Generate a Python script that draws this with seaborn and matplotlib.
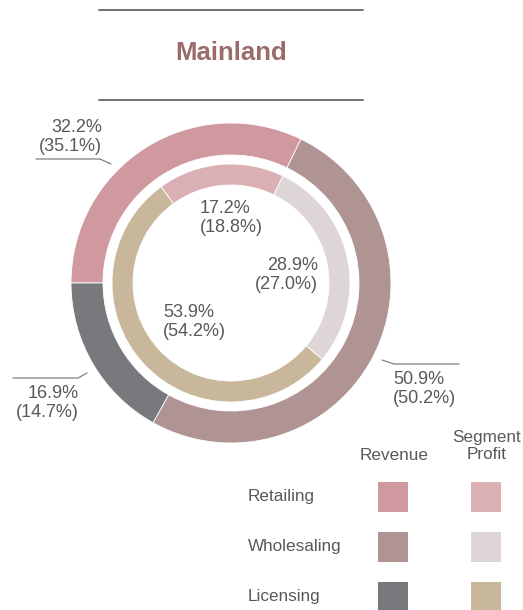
import pandas as pd
import seaborn as sns
import matplotlib.pyplot as plt

# Chart data
segments = ["Retailing", "Wholesaling", "Licensing"]
revenue_pct = [32.2, 50.9, 16.9]
revenue_prev = [35.1, 50.2, 14.7]
profit_pct = [17.2, 28.9, 53.9]
profit_prev = [18.8, 27.0, 54.2]

revenue_colors = ["#d0989f", "#b09494", "#78797d"]
profit_colors = ["#dab0b5", "#ded5d6", "#c8b79a"]

sns.set_style("white")
plt.rcParams['font.family'] = ['Liberation Sans', 'DejaVu Sans']
text_color = "#595959"
line_color = "#7f7f7f"

W, H = 523, 610
fig = plt.figure(figsize=(W / 100, H / 100), dpi=100)
ax = fig.add_axes([0, 0, 1, 1])

# work in pixel coords, y measured from the top
def py(y):
    return H - y

cx, cy = 231, py(283)

# Outer ring: revenue
ax.pie(revenue_pct, colors=revenue_colors, radius=160, center=(cx, cy),
       startangle=180, counterclock=False,
       wedgeprops=dict(width=32, edgecolor="white", linewidth=0.6))
# Inner ring: segment profit
ax.pie(profit_pct, colors=profit_colors, radius=119, center=(cx, cy),
       startangle=126, counterclock=False,
       wedgeprops=dict(width=21, edgecolor="white", linewidth=0.6))

def lab(cur, prev):
    return f"{cur:.1f}%\n({prev:.1f}%)"

lbl = dict(fontsize=13, color=text_color, linespacing=1.2, va='center')

# inner labels
inner_pos = [(200, 218, 'left'), (318, 275, 'right'), (163, 322, 'left')]
for (x, y, ha), c, p in zip(inner_pos, profit_pct, profit_prev):
    ax.text(x, py(y), lab(c, p), ha=ha, **lbl)

# outer labels with leader lines
ax.text(102, py(137), lab(revenue_pct[0], revenue_prev[0]), ha='right', **lbl)
ax.plot([36, 100, 111], [py(159), py(159), py(164)], color=line_color, lw=0.9)

ax.text(393, py(389), lab(revenue_pct[1], revenue_prev[1]), ha='left', **lbl)
ax.plot([382, 394, 459], [py(360), py(364), py(364)], color=line_color, lw=0.9)

ax.text(79, py(403), lab(revenue_pct[2], revenue_prev[2]), ha='right', **lbl)
ax.plot([13, 78, 87], [py(378), py(378), py(373)], color=line_color, lw=0.9)

# title block
ax.plot([99, 363], [py(10), py(10)], color="#666666", lw=1.3)
ax.plot([99, 363], [py(100), py(100)], color="#666666", lw=1.3)
ax.text(231, py(53), "Mainland", ha='center', va='center', fontsize=18.5,
        fontweight='bold', color="#9b6b6c")

# legend grid
legend = pd.DataFrame({
    "x": [393] * 3 + [486] * 3,
    "y": [py(497), py(547), py(597)] * 2,
    "key": [f"rev_{s}" for s in segments] + [f"prof_{s}" for s in segments],
})
palette = dict(zip(legend["key"], revenue_colors + profit_colors))
sns.scatterplot(data=legend, x="x", y="y", hue="key", palette=palette,
                marker='s', s=(31 / 1.389) ** 2, linewidth=0, legend=False,
                ax=ax, clip_on=False)
ax.set_xlim(0, W)
ax.set_ylim(0, H)
ax.set_aspect('equal')
ax.axis('off')

leg = dict(fontsize=12.3, color=text_color, va='center')
ax.text(394, py(456), "Revenue", ha='center', **leg)
ax.text(487, py(446), "Segment\nProfit", ha='center', linespacing=1.2, **leg)
for s, y in zip(segments, [497, 547, 597]):
    ax.text(248, py(y), s, ha='left', **leg)

fig.savefig("out.png", dpi=100)
